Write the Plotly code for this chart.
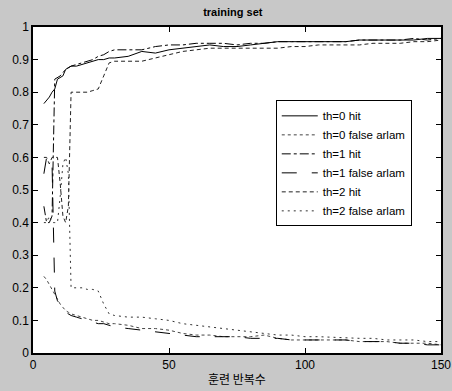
import plotly.graph_objects as go

x = [4, 5, 6, 7, 8, 9, 10, 11, 12, 13, 14, 16, 18, 20, 22, 24, 26, 28, 30, 35, 40, 45, 50,
     55, 60, 65, 70, 75, 80, 85, 90, 95, 100, 105, 110, 115, 120, 125, 130, 135, 140, 145, 150]

th0_hit = [0.765, 0.775, 0.785, 0.80, 0.81, 0.84, 0.845, 0.85, 0.87, 0.875, 0.88, 0.88, 0.885, 0.89,
           0.895, 0.90, 0.90, 0.905, 0.905, 0.91, 0.925, 0.92, 0.93, 0.935, 0.94, 0.945, 0.94, 0.94,
           0.945, 0.95, 0.955, 0.955, 0.955, 0.955, 0.955, 0.955, 0.96, 0.96, 0.96, 0.96, 0.96, 0.965, 0.965]
th0_false = [0.235, 0.225, 0.21, 0.195, 0.18, 0.165, 0.15, 0.14, 0.13, 0.125, 0.12, 0.115, 0.11, 0.105,
             0.10, 0.10, 0.095, 0.09, 0.09, 0.085, 0.075, 0.075, 0.07, 0.06, 0.055, 0.055, 0.05, 0.05,
             0.05, 0.055, 0.045, 0.04, 0.04, 0.04, 0.04, 0.04, 0.035, 0.035, 0.035, 0.03, 0.03, 0.03, 0.025]
th1_hit = [0.45, 0.40, 0.40, 0.42, 0.84, 0.845, 0.85, 0.86, 0.87, 0.875, 0.88, 0.885, 0.89, 0.895,
           0.90, 0.91, 0.915, 0.925, 0.93, 0.93, 0.93, 0.94, 0.945, 0.945, 0.95, 0.95, 0.95, 0.945,
           0.95, 0.95, 0.955, 0.955, 0.955, 0.955, 0.955, 0.955, 0.96, 0.96, 0.96, 0.96, 0.965, 0.96, 0.965]
th1_false = [0.55, 0.60, 0.60, 0.58, 0.19, 0.16, 0.15, 0.14, 0.125, 0.12, 0.115, 0.11, 0.105, 0.10,
             0.095, 0.09, 0.09, 0.085, 0.08, 0.075, 0.07, 0.065, 0.06, 0.055, 0.05, 0.05, 0.05, 0.05,
             0.045, 0.045, 0.045, 0.04, 0.04, 0.04, 0.04, 0.04, 0.035, 0.035, 0.035, 0.03, 0.03, 0.025, 0.025]
th2_hit = [0.60, 0.60, 0.58, 0.60, 0.60, 0.60, 0.52, 0.42, 0.40, 0.45, 0.80, 0.80, 0.80, 0.80,
           0.805, 0.81, 0.85, 0.89, 0.895, 0.895, 0.895, 0.905, 0.915, 0.925, 0.93, 0.935, 0.935, 0.935,
           0.935, 0.935, 0.935, 0.94, 0.94, 0.945, 0.945, 0.945, 0.945, 0.95, 0.95, 0.95, 0.955, 0.955, 0.96]
th2_false = [0.40, 0.40, 0.42, 0.40, 0.40, 0.40, 0.48, 0.58, 0.60, 0.55, 0.20, 0.20, 0.20, 0.195,
             0.195, 0.19, 0.15, 0.12, 0.115, 0.11, 0.11, 0.105, 0.10, 0.09, 0.085, 0.08, 0.075, 0.07,
             0.065, 0.06, 0.055, 0.055, 0.05, 0.05, 0.048, 0.045, 0.045, 0.045, 0.04, 0.04, 0.04, 0.035, 0.035]

names = ["th=0 hit", "th=0 false arlam", "th=1 hit", "th=1 false arlam", "th=2 hit", "th=2 false arlam"]
series = [th0_hit, th0_false, th1_hit, th1_false, th2_hit, th2_false]
dashes = ["solid", "dot", "dashdot", "longdash", "4px,3px", "2px,4px"]
colors = ["#000000", "#444444", "#000000", "#000000", "#222222", "#333333"]

ytick_vals = [0, 0.1, 0.2, 0.3, 0.4, 0.5, 0.6, 0.7, 0.8, 0.9, 1]
ytick_text = ["0", "0.1", "0.2", "0.3", "0.4", "0.5", "0.6", "0.7", "0.8", "0.9", "1"]
xtick_vals = [0, 50, 100, 150]
x_title = "훈련 반복수"

fig = go.Figure()
for n, s, d, c in zip(names, series, dashes, colors):
    fig.add_trace(go.Scatter(x=x, y=s, mode="lines", name=n,
                             line=dict(color=c, width=1, dash=d)))

font = "Liberation Sans, Arial, sans-serif"
fig.update_layout(
    width=452, height=391,
    margin=dict(l=33, r=11, t=27, b=38, autoexpand=False),
    paper_bgcolor="#c8c8c8", plot_bgcolor="white",
    title=dict(text="<b>training set</b>", x=0.515, xanchor="center", y=1 - 12 / 391,
               yanchor="middle", yref="container", font=dict(family=font, size=11, color="black")),
    showlegend=True,
    legend=dict(x=0.595, y=0.775, xanchor="left", yanchor="top", bgcolor="white",
                bordercolor="black", borderwidth=1, itemwidth=36,
                font=dict(family=font, size=11.5, color="black"), tracegroupgap=0),
    xaxis=dict(range=[0, 150], tickvals=xtick_vals, ticks="inside", ticklen=5, tickcolor="black",
               showline=True, linecolor="black", linewidth=1.5, mirror="ticks", showgrid=False,
               zeroline=False, automargin=False, tickfont=dict(family=font, size=12, color="black")),
    yaxis=dict(range=[0, 1], tickvals=ytick_vals, ticktext=ytick_text, ticks="inside", ticklen=5,
               tickcolor="black", showline=True, linecolor="black", linewidth=1.5, mirror="ticks",
               showgrid=False, zeroline=False, automargin=False,
               tickfont=dict(family=font, size=12, color="black")),
    annotations=[dict(text=x_title, xref="paper", yref="paper", x=0.5, y=-25 / 326,
                      xanchor="center", yanchor="middle", showarrow=False,
                      font=dict(family="Noto Sans CJK KR", size=12, color="black"))],
)

fig.write_html("out.html", config={"displayModeBar": False},
               post_script="document.body.style.margin='0';document.body.style.padding='0';")
